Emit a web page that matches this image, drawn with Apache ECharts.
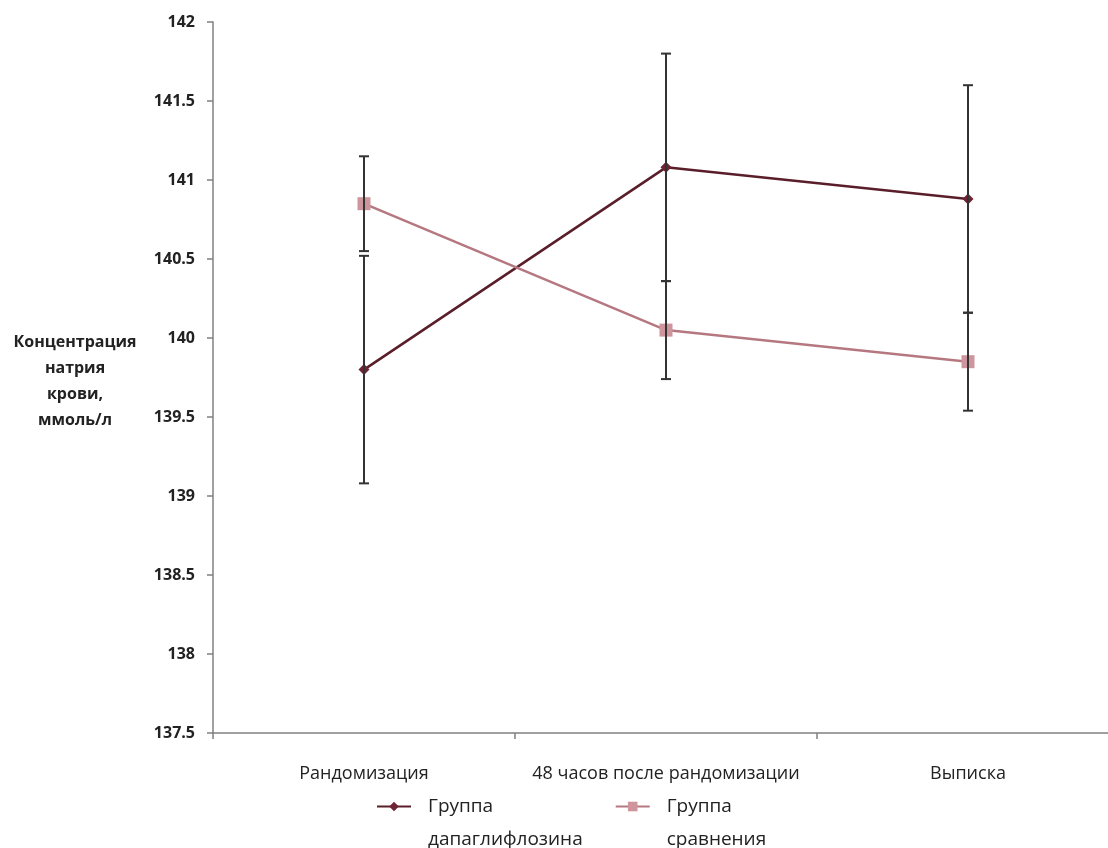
<!DOCTYPE html>
<html>
<head>
<meta charset="utf-8">
<script src="https://cdn.jsdelivr.net/npm/echarts@6/dist/echarts.min.js"></script>
<style>
html,body{margin:0;padding:0;background:#fff;overflow:hidden;}
#chart{width:1130px;height:848px;}
</style>
</head>
<body>
<div id="chart"></div>
<script>
const categories = ['Рандомизация', '48 часов после рандомизации', 'Выписка'];
const dapaName = 'Группа\nдапаглифлозина';
const compName = 'Группа\nсравнения';
const dapaValues = [139.8, 141.08, 140.88];
const dapaErr = [0.72, 0.72, 0.72];
const compValues = [140.85, 140.05, 139.85];
const compErr = [0.3, 0.31, 0.31];
const yMin = 137.5, yMax = 142, yStep = 0.5;
const yTitle = 'Концентрация\nнатрия\nкрови,\nммоль/л';

const chart = echarts.init(document.getElementById('chart'), null, {renderer: 'canvas'});

function errData(vals, errs) {
  return vals.map((v, i) => [i, v - errs[i], v + errs[i]]);
}
function errRender(params, api) {
  const x = api.value(0);
  const lo = api.coord([x, api.value(1)]);
  const hi = api.coord([x, api.value(2)]);
  const hw = 5;
  const st = {stroke: '#333', lineWidth: 2};
  return {
    type: 'group',
    children: [
      {type: 'line', shape: {x1: lo[0], y1: lo[1], x2: hi[0], y2: hi[1]}, style: st},
      {type: 'line', shape: {x1: lo[0] - hw, y1: lo[1], x2: lo[0] + hw, y2: lo[1]}, style: st},
      {type: 'line', shape: {x1: hi[0] - hw, y1: hi[1], x2: hi[0] + hw, y2: hi[1]}, style: st}
    ]
  };
}

const option = {
  backgroundColor: '#fff',
  animation: false,
  grid: {left: 213, top: 22, width: 906, height: 711, containLabel: false},
  xAxis: {
    type: 'category',
    data: categories,
    boundaryGap: true,
    axisLine: {lineStyle: {color: '#808080', width: 1.5}},
    axisTick: {show: true, inside: false, length: 6, lineStyle: {color: '#808080', width: 1.5}},
    axisLabel: {interval: 0, hideOverlap: false, margin: 32, fontSize: 18, color: '#222', fontFamily: 'Open Sans'},
    splitLine: {show: false}
  },
  yAxis: {
    type: 'value',
    min: yMin, max: yMax, interval: yStep,
    axisLine: {show: true, lineStyle: {color: '#808080', width: 1.5}},
    axisTick: {show: true, inside: false, length: 6, lineStyle: {color: '#808080', width: 1.5}},
    axisLabel: {margin: 18, fontSize: 16, fontWeight: 'bold', color: '#222', fontFamily: 'Open Sans',
      formatter: v => String(Math.round(v * 10) / 10)},
    splitLine: {show: false}
  },
  legend: {
    left: 371, top: 752,
    itemWidth: 34, itemHeight: 12, itemGap: 32,
    data: [dapaName, compName],
    formatter: n => '\u00a0\n' + n,
    textStyle: {fontSize: 19, color: '#222', fontFamily: 'Open Sans', lineHeight: 33, padding: [0, 0, 0, 12]}
  },
  graphic: [{
    type: 'text', x: 75, y: 381,
    style: {
      text: yTitle, x: 0, y: 0, align: 'center', verticalAlign: 'middle',
      font: 'bold 16px "Open Sans"', fill: '#222', lineHeight: 26
    }
  }],
  series: [
    {
      name: dapaName, type: 'line', data: dapaValues,
      symbol: 'diamond', symbolSize: 11,
      lineStyle: {color: '#5a1e2a', width: 2.5},
      itemStyle: {color: '#6e2434'}, z: 3
    },
    {
      name: compName, type: 'line', data: compValues,
      symbol: 'rect', symbolSize: 13,
      lineStyle: {color: '#b67880', width: 2.5},
      itemStyle: {color: '#cf959c'}, z: 3
    },
    {type: 'custom', renderItem: errRender, data: errData(dapaValues, dapaErr), z: 4, silent: true},
    {type: 'custom', renderItem: errRender, data: errData(compValues, compErr), z: 4, silent: true}
  ]
};
chart.setOption(option);
</script>
</body>
</html>
